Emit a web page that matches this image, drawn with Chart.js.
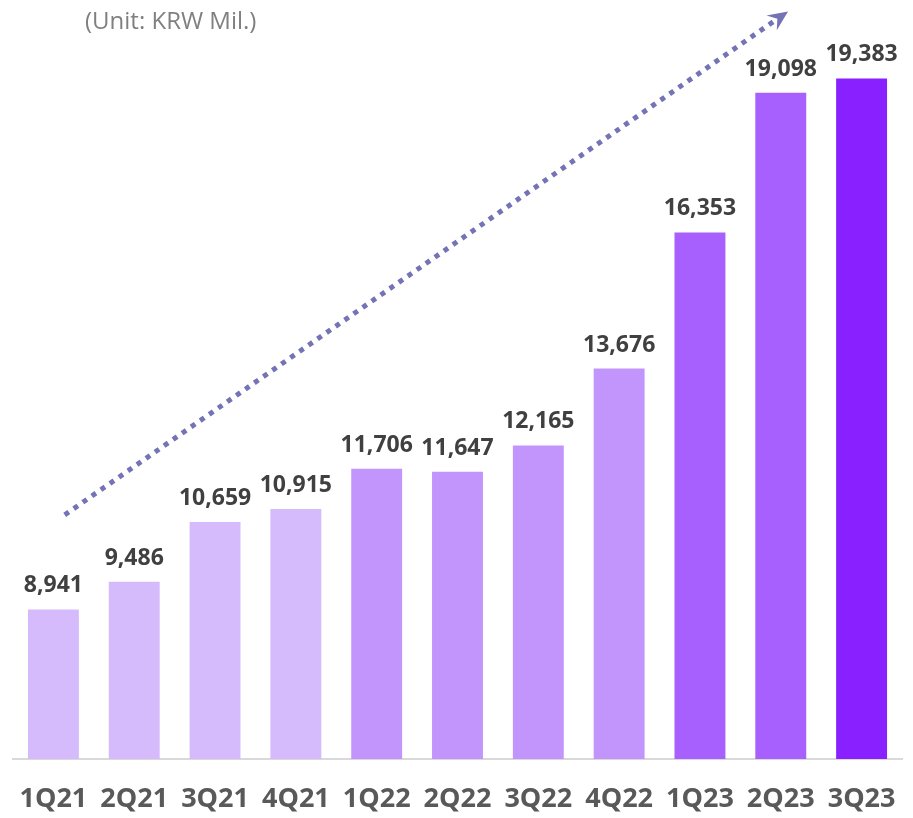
<!DOCTYPE html>
<html>
<head>
<meta charset="utf-8">
<script src="https://cdn.jsdelivr.net/npm/chart.js@4/dist/chart.umd.min.js"></script>
<style>
  html, body { margin: 0; padding: 0; background: #ffffff; }
  #wrap { width: 913px; height: 818px; position: relative; }
</style>
</head>
<body>
<div id="wrap"><canvas id="c" width="913" height="818"></canvas></div>
<script>
const categories = ['1Q21','2Q21','3Q21','4Q21','1Q22','2Q22','3Q22','4Q22','1Q23','2Q23','3Q23'];
const revenue = [8941, 9486, 10659, 10915, 11706, 11647, 12165, 13676, 16353, 19098, 19383];
const barColors = ['#D5BBFC','#D5BBFC','#D5BBFC','#D5BBFC','#C295FD','#C295FD','#C295FD','#C295FD','#A75FFE','#A75FFE','#8820FF'];
const unitText = '(Unit: KRW Mil.)';
// trend arrow endpoints in data coordinates (category index, value)
const arrowStart = [0.14, 10800];
const arrowEnd = [9.09, 20700];
const yMin = 6000;
const yMax = 20000;

const fmt = v => v.toLocaleString('en-US');

const decorPlugin = {
  id: 'decor',
  afterDatasetsDraw(chart) {
    const ctx = chart.ctx;
    const xs = chart.scales.x, ys = chart.scales.y;
    // value labels
    const meta = chart.getDatasetMeta(0);
    ctx.save();
    ctx.font = 'bold 23px "Open Sans", "Noto Sans", sans-serif';
    ctx.fillStyle = '#404040';
    ctx.textAlign = 'center';
    ctx.textBaseline = 'alphabetic';
    meta.data.forEach((bar, i) => {
      ctx.fillText(fmt(revenue[i]), bar.x, bar.y - 17);
    });
    ctx.restore();
    // trend arrow
    const x0 = xs.getPixelForValue(arrowStart[0]);
    const y0 = ys.getPixelForValue(arrowStart[1]);
    const x1 = xs.getPixelForValue(arrowEnd[0]);
    const y1 = ys.getPixelForValue(arrowEnd[1]);
    const ang = Math.atan2(y1 - y0, x1 - x0);
    const headLen = 20;
    ctx.save();
    ctx.strokeStyle = '#7373B5';
    ctx.fillStyle = '#7373B5';
    ctx.lineWidth = 5;
    ctx.lineCap = 'butt';
    ctx.setLineDash([5, 6]);
    ctx.beginPath();
    ctx.moveTo(x0, y0);
    ctx.lineTo(x1 - Math.cos(ang) * headLen * 0.8, y1 - Math.sin(ang) * headLen * 0.8);
    ctx.stroke();
    ctx.setLineDash([]);
    ctx.beginPath();
    ctx.moveTo(x1, y1);
    ctx.lineTo(x1 - headLen * Math.cos(ang) + 9 * Math.sin(ang), y1 - headLen * Math.sin(ang) - 9 * Math.cos(ang));
    ctx.lineTo(x1 - headLen * 0.65 * Math.cos(ang), y1 - headLen * 0.65 * Math.sin(ang));
    ctx.lineTo(x1 - headLen * Math.cos(ang) - 9 * Math.sin(ang), y1 - headLen * Math.sin(ang) + 9 * Math.cos(ang));
    ctx.closePath();
    ctx.fill();
    ctx.restore();
    // unit text
    ctx.save();
    ctx.font = '24px "Open Sans", "Noto Sans", sans-serif';
    ctx.fillStyle = '#808080';
    ctx.textAlign = 'left';
    ctx.textBaseline = 'middle';
    ctx.fillText(unitText, 85, 22);
    ctx.restore();
  }
};

new Chart(document.getElementById('c'), {
  type: 'bar',
  data: {
    labels: categories,
    datasets: [{
      data: revenue,
      backgroundColor: barColors,
      borderWidth: 0,
      categoryPercentage: 0.9,
      barPercentage: 0.7
    }]
  },
  options: {
    responsive: false,
    animation: false,
    events: [],
    layout: { padding: { left: 13, right: 11, top: 47, bottom: 0 } },
    plugins: { legend: { display: false }, tooltip: { enabled: false } },
    scales: {
      x: {
        grid: { display: false, drawTicks: false },
        border: { display: true, color: '#D9D9D9', width: 2 },
        afterFit(scale) { scale.height = 59; scale.paddingLeft = 0; scale.paddingRight = 0; },
        ticks: {
          color: '#595959',
          font: { family: '"Open Sans", "Noto Sans", sans-serif', size: 27, weight: 'bold' },
          padding: 24,
          maxRotation: 0,
          autoSkip: false
        }
      },
      y: {
        display: false,
        min: yMin,
        max: yMax
      }
    }
  },
  plugins: [decorPlugin]
});
</script>
</body>
</html>
